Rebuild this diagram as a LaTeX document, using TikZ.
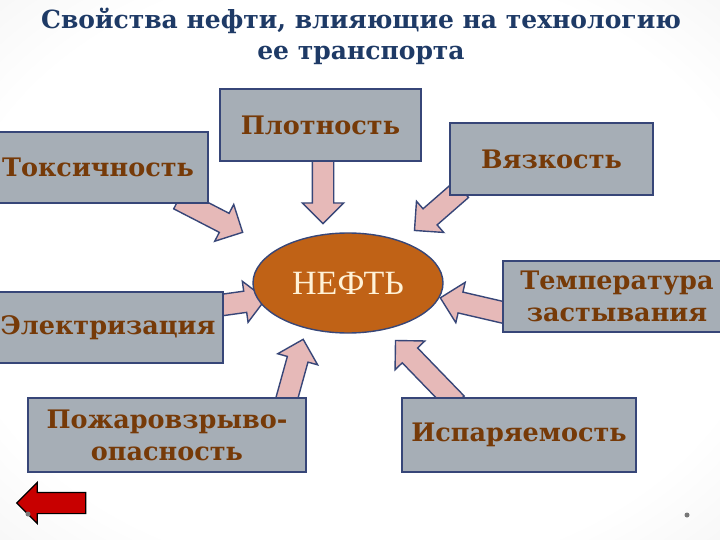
\documentclass[tikz,border=0pt]{standalone}
\usepackage{fontspec}
\setmainfont{DejaVu Serif}
\newfontfamily\timesf{Liberation Serif}
\usetikzlibrary{shapes.geometric,shapes.arrows,calc}
\definecolor{navy}{RGB}{55,70,120}
\definecolor{boxgray}{RGB}{166,174,182}
\definecolor{txtbrown}{RGB}{118,58,8}
\definecolor{titleblue}{RGB}{30,58,102}
\definecolor{oilbrown}{RGB}{192,98,22}
\definecolor{cream}{RGB}{255,242,215}
\definecolor{arrpink}{RGB}{230,185,184}
\definecolor{btnred}{RGB}{200,0,0}
\definecolor{bggray}{RGB}{212,212,212}
\definecolor{dotgray}{RGB}{120,120,120}
\pgfdeclareradialshading{bgshade}{\pgfpoint{0bp}{0bp}}{color(0bp)=(white); color(28bp)=(white); color(72bp)=(bggray)}
\newcommand\barrow[2]{%
  \path let \p1=(#1), \p2=(#2), \n1={atan2(\y2-\y1,\x2-\x1)}, \n2={veclen(\x2-\x1,\y2-\y1)} in
    node[barr, minimum height=\n2, rotate=\n1, anchor=tail] at (\p1) {};}
\begin{document}
\begin{tikzpicture}[x=1pt,y=-1pt,
  box/.style={draw=navy, line width=1.4pt, fill=boxgray, inner sep=0pt, text=txtbrown,
    font=\bfseries\fontsize{25.5}{32}\selectfont, align=center},
  barr/.style={single arrow, draw=navy, line width=1.4pt, fill=arrpink,
    single arrow head extend=10pt, single arrow tip angle=90, inner xsep=0pt, inner ysep=10pt},
  titlestyle/.style={text=titleblue, font=\bfseries\fontsize{25}{30}\selectfont, inner sep=0pt},
]
\useasboundingbox (0,0) rectangle (720,540);
\clip (0,0) rectangle (720,540);
\shade[shading=bgshade] (0,0) rectangle (720,540);

% title
\node[titlestyle] (t1) at (361,21) {Свойства нефти, влияющие на технологию};
\node[titlestyle] (t2) at (361,55) {ее транспорта};

% arrow coordinates
\coordinate (s1) at (323,158);  \coordinate (e1) at (323,223);
\coordinate (s2) at (178,199);  \coordinate (e2) at (242,232);
\coordinate (s3) at (462,189);  \coordinate (e3) at (415,230);
\coordinate (s4) at (215,306);  \coordinate (e4) at (265,299);
\coordinate (s5) at (510,314);  \coordinate (e5) at (441,298);
\coordinate (s6) at (285,405);  \coordinate (e6) at (303,340);
\coordinate (s7) at (457,404);  \coordinate (e7) at (396,341);
\barrow{s1}{e1}
\barrow{s2}{e2}
\barrow{s3}{e3}
\barrow{s4}{e4}
\barrow{s5}{e5}
\barrow{s6}{e6}
\barrow{s7}{e7}

% boxes
\node[box, minimum width=201pt, minimum height=72pt] (plot) at (320.5,125) {Плотность};
\node[box, minimum width=220pt, minimum height=71pt] (toks) at (98,167.5) {Токсичность};
\node[box, minimum width=203pt, minimum height=72pt] (vyaz) at (551.5,159) {Вязкость};
\node[box, minimum width=230pt, minimum height=71pt] (elek) at (108,327.5) {Электризация};
\node[box, minimum width=228pt, minimum height=71pt] (temp) at (617,296.5) {Температура\\застывания};
\node[box, minimum width=278pt, minimum height=74pt] (pozh) at (167,435) {Пожаровзрыво-\\опасность};
\node[box, minimum width=234pt, minimum height=74pt] (isp) at (519,435) {Испаряемость};

% centre
\node[ellipse, draw=navy, line width=1.4pt, fill=oilbrown, minimum width=190pt, minimum height=100pt,
  inner sep=0pt, text=cream, font=\timesf\fontsize{34}{34}\selectfont] (neft) at (348,283) {НЕФТЬ};

% back button and dots
\node[single arrow, draw=black, line width=1.2pt, fill=btnred, minimum height=69pt,
  single arrow head extend=10pt, single arrow tip angle=90, shape border rotate=180,
  inner xsep=0pt, inner ysep=10pt] (back) at (56.5,503) {};
\node[circle, fill=dotgray, inner sep=0pt, minimum size=5pt] (dot1) at (28,514) {};
\node[circle, fill=dotgray, inner sep=0pt, minimum size=5pt] (dot2) at (687,515) {};
\end{tikzpicture}
\end{document}
